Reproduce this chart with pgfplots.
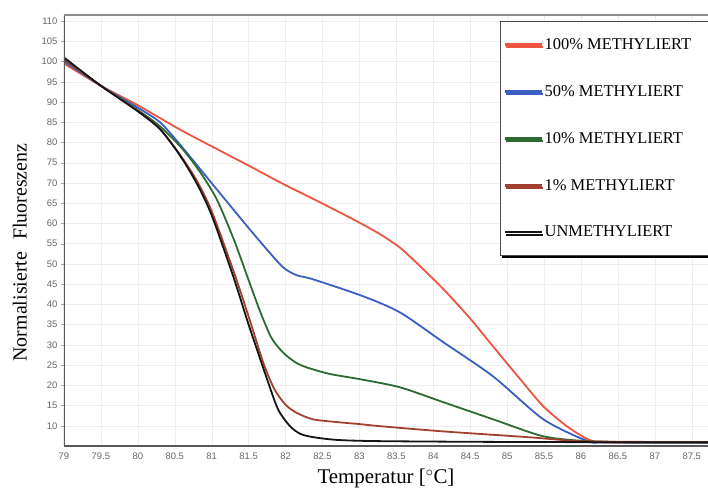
\documentclass[border=0pt]{standalone}
\usepackage{fontspec}
\setmainfont{Liberation Serif}
\setsansfont{Liberation Sans}
\usepackage{pgfplots}
\pgfplotsset{compat=1.18}
\usetikzlibrary{calc, shadows}

\definecolor{cRed}{HTML}{EE5540}
\definecolor{cBlue}{HTML}{3A5EC2}
\definecolor{cGreen}{HTML}{2D6A32}
\definecolor{cBrown}{HTML}{A2402F}
\definecolor{cBlack}{HTML}{141414}

\newcommand{\lent}[1]{\makebox[172bp][l]{#1}}

\begin{document}
\begin{tikzpicture}
\begin{axis}[
  scale only axis,
  width=644bp, height=431bp,
  xmin=79, xmax=87.72,
  ymin=5, ymax=111.5,
  xtick={79,79.5,...,87.5},
  ytick={10,15,...,110},
  axis line style={draw=none},
  grid=major,
  grid style={black!7},
  tick align=outside,
  major tick length=3bp,
  tick style={black!35},
  xtick style={draw=none},
  /pgf/number format/assume math mode=true,
  tick label style={font=\fontsize{9.5}{10}\sffamily, text=black!60},
  xlabel={Temperatur [$^\circ$C]},
  ylabel={Normalisierte\hspace{0.6em}Fluoreszenz},
  xlabel style={font=\fontsize{21}{24}\selectfont, yshift=-3bp},
  ylabel style={font=\fontsize{20}{24}\selectfont, yshift=8bp, xshift=-22bp},
  legend cell align=left,
  legend image code/.code={\draw[#1, line width=2.3bp] (0bp,0bp) -- (37bp,0bp);},
  legend style={at={(rel axis cs:0.677,0.986)}, anchor=north west,
    draw=black!70, line width=0.8bp, fill=white,
    font=\fontsize{16.5}{18}\selectfont,
    row sep=30.5bp, inner xsep=3bp, inner ysep=15bp,
    drop shadow={shadow xshift=1.5bp, shadow yshift=-2.5bp, fill=black, opacity=1}},
  every axis plot/.append style={line width=1.8bp, smooth, tension=0.45},
]
% 100 %
\addplot[cRed] coordinates {
  (79,99.5) (79.5,94) (80,89.2) (80.57,83.2) (81.11,78.0) (81.5,74.3) (81.93,70.1)
  (82.5,64.9) (83.0,60.2) (83.3,57.1) (83.55,54.0) (83.8,49.8) (84.14,43.7)
  (84.5,36.5) (84.81,29.6) (85.2,21) (85.49,14.8) (85.8,10) (86.09,6.7)
  (86.3,5.9) (87,5.8) (87.72,5.8)
};
% 50 %
\addplot[cBlue] coordinates {
  (79,100) (79.5,94) (80,88.6) (80.3,85) (80.57,79.5) (80.93,71.5) (81.2,65.5)
  (81.48,59.3) (81.75,53.5) (81.97,49.1) (82.15,47.2) (82.37,46.2) (83.05,42.0)
  (83.55,38.0) (84.14,30.6) (84.81,22.2) (85.49,11.6) (86.09,6.2) (86.3,5.9)
  (87,5.8) (87.72,5.8)
};
% 10 %
\addplot[cGreen] coordinates {
  (79,100.5) (79.5,94) (80,88) (80.3,84) (80.6,78.5) (80.85,72.5) (81.07,65.9)
  (81.3,56) (81.48,47) (81.65,38.5) (81.8,32) (81.92,29) (82.02,27.2)
  (82.15,25.5) (82.29,24.4) (82.6,22.8) (83.01,21.5) (83.55,19.5) (84.14,15.8)
  (84.81,11.6) (85.49,7.4) (86.09,6.2) (87,5.9) (87.72,5.9)
};
% 1 %
\addplot[cBrown] coordinates {
  (79,100.5) (79.5,94) (80,87.8) (80.3,83.3) (80.57,77) (80.8,70.5) (81.0,63)
  (81.29,48.5) (81.5,37) (81.70,25.5) (81.85,19) (82.0,15.2) (82.15,13.2)
  (82.37,11.6) (82.7,10.9) (83.01,10.4) (83.28,9.9) (84.14,8.6) (85.27,7.2)
  (86.0,6.2) (87,6.0) (87.72,6.0)
};
% unmethyliert
\addplot[cBlack] coordinates {
  (79,101) (79.5,94) (80,87.7) (80.3,83.3) (80.57,76.8) (80.8,69.8) (81.0,62)
  (81.29,47) (81.5,35) (81.75,21.5) (81.9,14) (82.06,9.9) (82.2,8) (82.37,7.2)
  (82.7,6.5) (83.28,6.2) (85,6.0) (87.72,5.9)
};
\legend{\lent{100\% METHYLIERT}, \lent{50\% METHYLIERT}, \lent{10\% METHYLIERT},
  \lent{1\% METHYLIERT}, \lent{UNMETHYLIERT}}
\draw[line width=2.5bp, black!65] (rel axis cs:0,0) -- (rel axis cs:0,1);
\draw[line width=2.5bp, black!65] (rel axis cs:0,0) -- (rel axis cs:1,0);
\draw[line width=1.2bp, black!45] (rel axis cs:0,1) -- (rel axis cs:1,1);
\coordinate (sw) at (rel axis cs:0,0);
\coordinate (ne) at (rel axis cs:1,1);
\end{axis}
\pgfresetboundingbox
\path ($(sw)+(-64bp,-48bp)$) rectangle ($(ne)+(0bp,15bp)$);
\end{tikzpicture}
\end{document}
